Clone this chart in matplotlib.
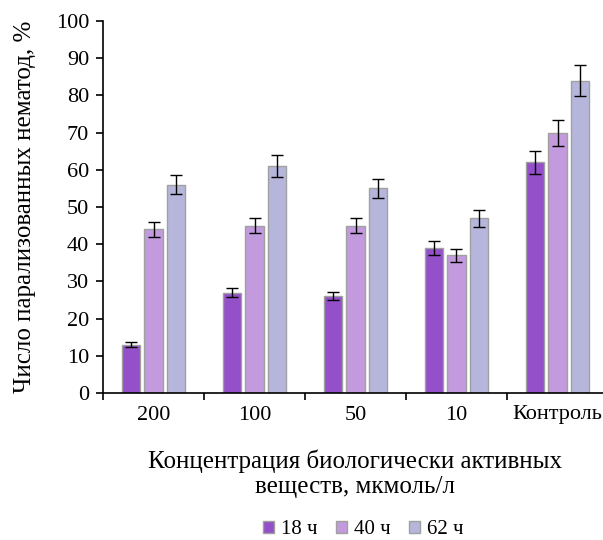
import numpy as np
import matplotlib.pyplot as plt

plt.rcParams['font.family'] = ['Liberation Serif', 'DejaVu Serif']

categories = ["200", "100", "50", "10", "Контроль"]
series = ["18 ч", "40 ч", "62 ч"]
vals_18 = [13, 27, 26, 39, 62]
vals_40 = [44, 45, 45, 37, 70]
vals_62 = [56, 61, 55, 47, 84]
err_18 = [0.7, 1.2, 1.1, 1.8, 3.1]
err_40 = [2.0, 2.1, 2.1, 1.8, 3.5]
err_62 = [2.6, 3.0, 2.6, 2.3, 4.2]

colors = ["#9350C8", "#C39ADE", "#B6B6DC"]

fig = plt.figure(figsize=(6.03, 5.40), dpi=100)
ax = fig.add_axes([103 / 603, 147 / 540, 505 / 603, 372 / 540])

x = np.arange(len(categories))
width = 0.18
step = 0.222
for i, (vals, errs) in enumerate(zip([vals_18, vals_40, vals_62],
                                     [err_18, err_40, err_62])):
    ax.bar(x + (i - 1) * step, vals, width, color=colors[i],
           edgecolor="#a0a0a0", linewidth=1.0, label=series[i],
           yerr=errs, capsize=4,
           error_kw=dict(ecolor="black", elinewidth=1.0, capthick=1.0))

ax.set_xlim(-0.5, 4.5)
ax.set_ylim(0, 100)
ax.set_yticks(np.arange(0, 101, 10))
ax.set_xticks(x)
ax.set_xticklabels(categories)
ax.set_xticks(np.arange(-0.5, 4.6, 1.0), minor=True)
ax.tick_params(axis="x", which="major", length=0, pad=9, labelsize=16)
ax.tick_params(axis="x", which="minor", length=5, direction="out", width=1.2)
ax.tick_params(axis="y", length=5, direction="out", labelsize=16, width=1.2,
               pad=5)

for s in ["top", "right"]:
    ax.spines[s].set_visible(False)
ax.spines["left"].set_linewidth(1.2)
ax.spines["bottom"].set_linewidth(1.2)

ax.set_ylabel("Число парализованных нематод, %", fontsize=18, labelpad=14)
ax.set_xlabel("Концентрация биологически активных\nвеществ, мкмоль/л",
              fontsize=18, labelpad=18, linespacing=1.15)

fig.legend(loc="center", bbox_to_anchor=(363 / 603, 1 - 530 / 540), ncol=3,
           frameon=False, fontsize=15, handlelength=0.55, handleheight=0.55,
           handletextpad=0.3, columnspacing=0.9, borderpad=0.1)

fig.savefig("out.png", dpi=100)
